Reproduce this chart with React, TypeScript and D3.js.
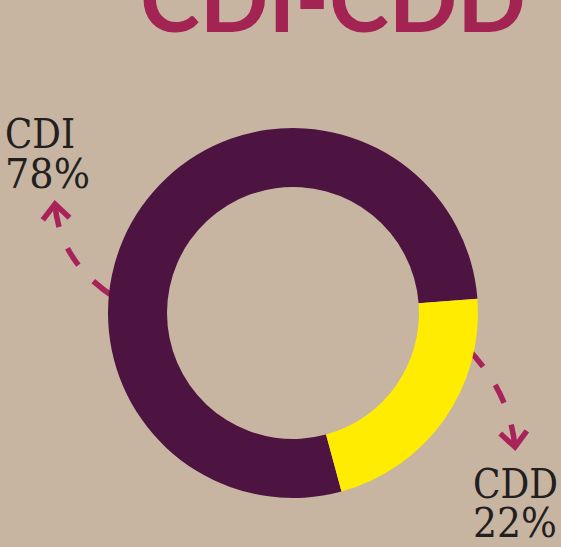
import React from "react";
import * as d3 from "d3";

const categories = ["CDI", "CDD"];
const values = [78, 22];
const percentLabels = ["78%", "22%"];
const colors = ["#4d1341", "#ffec00"];
const title = "CDI-CDD";

const W = 561;
const H = 547;
const BG = "#c7b5a2";
const ACCENT = "#a8235a";
const TEXT = "#231f20";

const cx = 293;
const cy = 313;
const outerR = 185;
const innerR = 126;
const deg = Math.PI / 180;
// CDD slice spans 22% and starts at ~85.6deg clockwise from 12 o'clock
const startAngle = 85.6 * deg - (values[0] / d3.sum(values)) * 2 * Math.PI;

function arrowPath(p0: [number, number], c: [number, number], p2: [number, number]) {
  const p = d3.path();
  p.moveTo(p0[0], p0[1]);
  p.quadraticCurveTo(c[0], c[1], p2[0], p2[1]);
  return p.toString();
}

function arrowHead(c: [number, number], p2: [number, number], len: number, ang: number) {
  const dx = c[0] - p2[0];
  const dy = c[1] - p2[1];
  const l = Math.hypot(dx, dy);
  const ux = dx / l;
  const uy = dy / l;
  const rot = (a: number): [number, number] => [
    p2[0] + len * (ux * Math.cos(a) - uy * Math.sin(a)),
    p2[1] + len * (ux * Math.sin(a) + uy * Math.cos(a)),
  ];
  const a1 = rot(ang);
  const a2 = rot(-ang);
  const p = d3.path();
  p.moveTo(a1[0], a1[1]);
  p.lineTo(p2[0], p2[1]);
  p.lineTo(a2[0], a2[1]);
  return p.toString();
}

export default function App() {
  React.useEffect(() => {
    document.body.style.margin = "0";
    document.body.style.background = BG;
  }, []);

  const pie = d3
    .pie<number>()
    .sort(null)
    .startAngle(startAngle)
    .endAngle(startAngle + 2 * Math.PI);
  const arcs = pie(values);
  const arc = d3.arc<d3.PieArcDatum<number>>().innerRadius(innerR).outerRadius(outerR);

  const leftA: [[number, number], [number, number], [number, number]] = [
    [114, 297],
    [59.5, 261.5],
    [55, 204],
  ];
  const rightA: [[number, number], [number, number], [number, number]] = [
    [466, 347],
    [509.5, 391],
    [515, 447],
  ];

  const labelFont = "'DejaVu Serif Condensed', 'DejaVu Serif', serif";

  return (
    <svg
      width={W}
      height={H}
      viewBox={`0 0 ${W} ${H}`}
      style={{ position: "fixed", left: 0, top: 0, display: "block" }}
    >
      <rect x={0} y={0} width={W} height={H} fill={BG} />
      <text
        x={140}
        y={32}
        fill="#a32352"
        fontFamily="Lato, 'Open Sans', sans-serif"
        fontWeight={700}
        fontSize={92}
        textLength={386}
        lengthAdjust="spacingAndGlyphs"
      >
        {title}
      </text>

      {/* arrows (drawn under ring) */}
      {[leftA, rightA].map((a, i) => (
        <g key={i} fill="none" stroke={ACCENT} strokeWidth={5.5}>
          <path d={arrowPath(a[0], a[1], a[2])} strokeDasharray="26 22 20 23 200" />
          <path d={arrowHead(a[1], a[2], 20, 42 * deg)} strokeLinejoin="miter" />
        </g>
      ))}

      <g transform={`translate(${cx},${cy})`}>
        {arcs.map((d, i) => (
          <path key={categories[i]} d={arc(d) || ""} fill={colors[i]} />
        ))}
      </g>

      <g fill={TEXT} fontFamily={labelFont} fontSize={41} style={{ fontStretch: "condensed" }}>
        <text x={5} y={148} textLength={70} lengthAdjust="spacingAndGlyphs">{categories[0]}</text>
        <text x={5} y={188} textLength={85} lengthAdjust="spacingAndGlyphs">{percentLabels[0]}</text>
        <text x={473} y={498} textLength={85} lengthAdjust="spacingAndGlyphs">{categories[1]}</text>
        <text x={473} y={537} textLength={84} lengthAdjust="spacingAndGlyphs">{percentLabels[1]}</text>
      </g>
    </svg>
  );
}
